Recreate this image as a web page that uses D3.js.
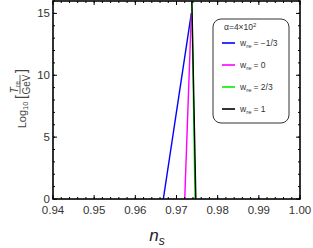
<!DOCTYPE html>
<html>
<head>
<meta charset="utf-8">
<script src="https://cdn.jsdelivr.net/npm/d3@7"></script>
<style>
  body { margin: 0; background: #fff; }
  text { font-family: "Liberation Sans", Arial, sans-serif; }
</style>
</head>
<body>
<div id="chart"></div>
<script>
// series endpoints: [n_s, log10(T_re/GeV)]
var subs = ["= \u22121/3", "= 0", "= 2/3", "= 1"];
var colors = ["#0000ff", "#ff00ff", "#00ee00", "#000000"];
var blue = [[0.9668, 0], [0.9736, 15]];
var magenta = [[0.9720, 0], [0.9736, 15]];
var green = [[0.9745, 0], [0.9737, 16.5]];
var black = [[0.9747, 0], [0.9737, 16.5]];
var series = [blue, magenta, green, black];
var xTicks = [0.94, 0.95, 0.96, 0.97, 0.98, 0.99, 1.00];
var yTicks = [0, 5, 10, 15];

var W = 313, H = 248;
var margin = { top: 1, right: 13, bottom: 49, left: 53 },
    width = W - margin.left - margin.right,
    height = H - margin.top - margin.bottom;

var x = d3.scaleLinear().domain([0.94, 1.0]).range([0, width]);
var y = d3.scaleLinear().domain([0, 16]).range([height, 0]);

var svg = d3.select("#chart").append("svg")
  .attr("width", W).attr("height", H);

var g = svg.append("g")
  .attr("transform", "translate(" + margin.left + "," + margin.top + ")");

g.append("clipPath").attr("id", "clip")
  .append("rect").attr("width", width).attr("height", height);

// data lines
var line = d3.line().x(function (d) { return x(d[0]); }).y(function (d) { return y(d[1]); });
g.append("g").attr("clip-path", "url(#clip)")
  .selectAll("path").data(series).enter().append("path")
  .attr("d", line)
  .attr("fill", "none")
  .attr("stroke", function (d, i) { return colors[i]; })
  .attr("stroke-width", 1.4);

// ticks on all four sides, pointing inward
var xMinor = d3.range(0.94, 1.0001, 0.002);
var yMinor = d3.range(0, 16.001, 1);

function addTicks(vals, len, side) {
  g.append("g").selectAll("line").data(vals).enter().append("line")
    .attr("x1", function (d) { return side === "b" || side === "t" ? x(d) : (side === "l" ? 0 : width); })
    .attr("x2", function (d) { return side === "b" || side === "t" ? x(d) : (side === "l" ? len : width - len); })
    .attr("y1", function (d) { return side === "l" || side === "r" ? y(d) : (side === "b" ? height : 0); })
    .attr("y2", function (d) { return side === "l" || side === "r" ? y(d) : (side === "b" ? height - len : len); })
    .attr("stroke", "#000").attr("stroke-width", 1);
}
["b", "t"].forEach(function (s) { addTicks(xMinor, 2, s); addTicks(xTicks, 4, s); });
["l", "r"].forEach(function (s) { addTicks(yMinor, 2, s); addTicks(yTicks, 4, s); });

// frame
g.append("rect").attr("width", width).attr("height", height)
  .attr("fill", "none").attr("stroke", "#000").attr("stroke-width", 1.6);

// tick labels
g.append("g").selectAll("text").data(xTicks).enter().append("text")
  .attr("x", function (d) { return x(d); })
  .attr("y", height + 15)
  .attr("text-anchor", "middle")
  .attr("font-size", 11.5).attr("fill", "#333")
  .text(function (d) { return d.toFixed(2); });

g.append("g").selectAll("text").data(yTicks).enter().append("text")
  .attr("x", -3)
  .attr("y", function (d) { return y(d) + 4; })
  .attr("text-anchor", "end")
  .attr("font-size", 11.5).attr("fill", "#333")
  .text(function (d) { return d; });

// x axis title
svg.append("text")
  .attr("x", 157).attr("y", 241)
  .attr("text-anchor", "middle")
  .attr("font-size", 17).attr("font-style", "italic").attr("fill", "#222")
  .text("n").append("tspan")
  .attr("font-size", 12).attr("dy", 4).text("s");

// y axis title: Log10[ T_re / GeV ]
var yl = svg.append("g").attr("transform", "translate(20,100) rotate(-90)")
  .attr("fill", "#444");
yl.append("text").attr("x", -15).attr("y", 6).attr("font-size", 11).attr("text-anchor", "middle")
  .text("Log").append("tspan").attr("font-size", 7.5).attr("dy", 2).text("10");
yl.append("text").attr("x", 3).attr("y", 6).attr("font-size", 14).attr("text-anchor", "middle")
  .text("[");
yl.append("text").attr("x", 13).attr("y", -2).attr("font-size", 10).attr("font-style", "italic")
  .attr("text-anchor", "middle").text("T")
  .append("tspan").attr("font-size", 7).attr("font-style", "normal").attr("dy", 2).text("re");
yl.append("line").attr("x1", 6).attr("x2", 25).attr("y1", 0).attr("y2", 0)
  .attr("stroke", "#444").attr("stroke-width", 0.8);
yl.append("text").attr("x", 15.5).attr("y", 9.5).attr("font-size", 10).attr("text-anchor", "middle").text("GeV");
yl.append("text").attr("x", 29).attr("y", 6).attr("font-size", 14).attr("text-anchor", "middle")
  .text("]");

// legend
var lg = svg.append("g").attr("transform", "translate(213,19)");
lg.append("rect").attr("width", 76).attr("height", 104).attr("rx", 8)
  .attr("fill", "#fff").attr("stroke", "#333").attr("stroke-width", 1);
lg.append("text").attr("x", 11).attr("y", 11).attr("font-size", 8.5).attr("fill", "#333")
  .text("\u03b1=4\u00d710").append("tspan").attr("font-size", 6).attr("dy", -3).text("2");
subs.forEach(function (s, i) {
  var yy = 24 + i * 22;
  lg.append("line").attr("x1", 9).attr("x2", 22).attr("y1", yy).attr("y2", yy)
    .attr("stroke", colors[i]).attr("stroke-width", 1.6);
  var t = lg.append("text").attr("x", 27).attr("y", yy + 3).attr("font-size", 8.5).attr("fill", "#333");
  t.append("tspan").text("w");
  t.append("tspan").attr("font-size", 6).attr("dy", 2).text("re");
  t.append("tspan").attr("dy", -2).attr("dx", 2).text(s);
});
</script>
</body>
</html>
